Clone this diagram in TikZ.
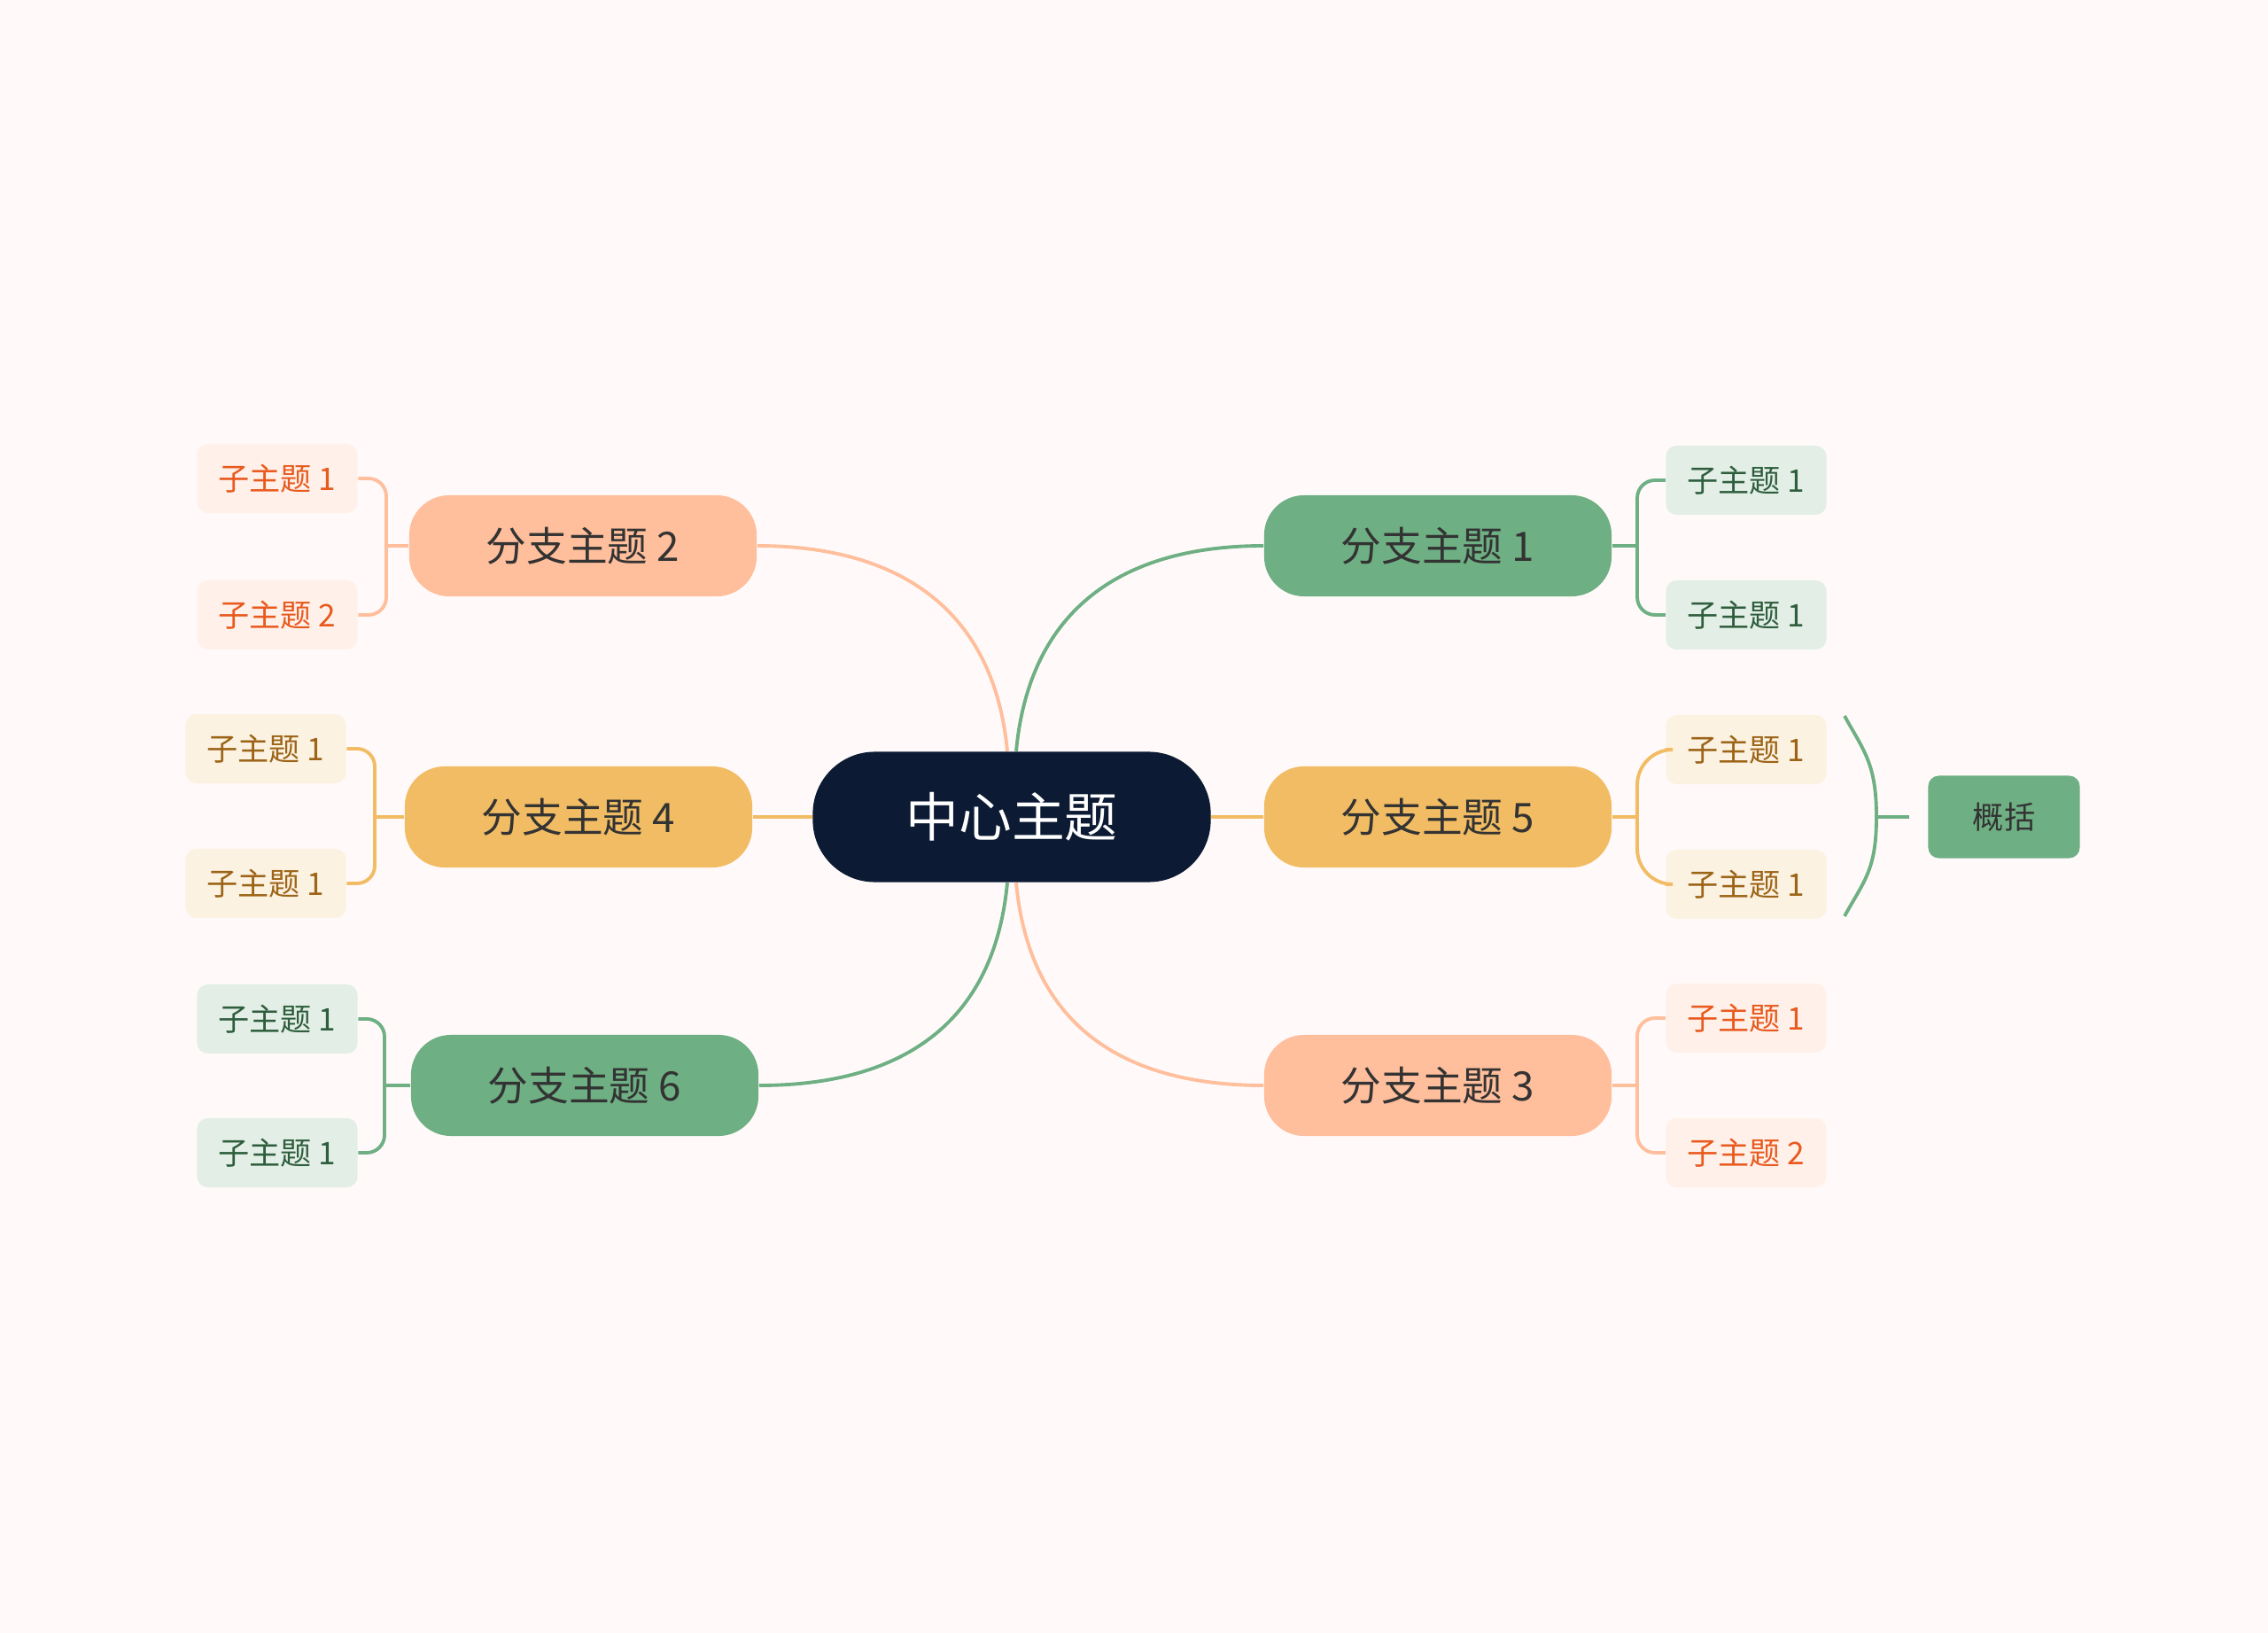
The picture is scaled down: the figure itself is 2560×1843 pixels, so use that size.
\documentclass[tikz,border=0pt]{standalone}
\usepackage{fontspec}
\setmainfont{Noto Sans CJK SC}
\usepackage{tikz}

\definecolor{pagebg}{HTML}{FFFAF9}
\definecolor{navy}{HTML}{0C1B33}
\definecolor{peach}{HTML}{FFBE9C}
\definecolor{amber}{HTML}{F1BC63}
\definecolor{sage}{HTML}{6EAF83}
\definecolor{peachsoft}{HTML}{FFF1EA}
\definecolor{ambersoft}{HTML}{FCF2E2}
\definecolor{sagesoft}{HTML}{E3EFE6}
\definecolor{peachink}{HTML}{E85A1E}
\definecolor{amberink}{HTML}{9C6416}
\definecolor{sageink}{HTML}{2F5E3E}
\definecolor{darkink}{HTML}{333333}

\begin{document}
\begin{tikzpicture}[x=0.01cm, y=-0.01cm,
  every topic/.style={rounded corners=0.7cm, minimum width=4.49cm, minimum height=1.47cm, inner sep=0pt, fill=navy, text=white, font=\fontsize{17}{20}\selectfont},
  every branch/.style={rounded corners=0.45cm, minimum width=3.92cm, minimum height=1.14cm, inner sep=0pt, text=darkink, font=\fontsize{13}{15}\selectfont},
  every sub/.style={rounded corners=0.12cm, minimum width=1.81cm, minimum height=0.78cm, inner sep=0pt, font=\fontsize{10}{12}\selectfont},
  sub peach/.style={fill=peachsoft, text=peachink},
  sub amber/.style={fill=ambersoft, text=amberink},
  sub sage/.style={fill=sagesoft, text=sageink},
  link/.style={line width=1.1pt}]

\fill [pagebg] (0,0) rectangle (2560,1843);
\useasboundingbox (0,0) rectangle (2560,1843);

\node [every topic/.try] (center) at (1142,922) {中心主题};

\foreach \n/\x/\y/\c in {1/1623/616/sage, 2/658/616/peach, 3/1623/1225/peach, 4/653/922/amber, 5/1623/922/amber, 6/660/1225/sage}
  \node [every branch/.try, fill=\c] (branch-\n) at (\x,\y) {分支主题 \n};

\foreach \m/\x/\y/\c/\l in {1-1/1971/542/sage/1, 1-2/1971/694/sage/1, 2-1/313/540/peach/1, 2-2/313/694/peach/2, 3-1/1971/1149/peach/1, 3-2/1971/1301/peach/2, 4-1/300/845/amber/1, 4-2/300/997/amber/1, 5-1/1971/846/amber/1, 5-2/1971/998/amber/1, 6-1/313/1150/sage/1, 6-2/313/1301/sage/1}
  \node [every sub/.try, sub \c/.try] (sub-\m) at (\x,\y) {子主题 \l};

\node [every sub/.try, fill=sage, text=darkink, minimum width=1.71cm, minimum height=0.93cm] (summary) at (2262,922) {概括};

\foreach \n/\x/\y in {1/1848/616, 2/436/616, 3/1848/1225, 4/423/922, 5/1848/922, 6/434/1225}
  \coordinate (fork-\n) at (\x,\y);

\foreach \n/\c/\a/\r in {1/sage/west/0.2cm, 2/peach/east/0.2cm, 3/peach/west/0.2cm, 4/amber/east/0.2cm, 5/amber/west/0.4cm, 6/sage/east/0.2cm} {
  \draw [link, draw=\c] (branch-\n) -- (fork-\n);
  \draw [link, draw=\c, rounded corners=\r] (sub-\n-1.\a) -| (fork-\n) |- (sub-\n-2.\a);
}

\draw [link, draw=peach] ([xshift=-0.05cm]center.north) .. controls +(-15,-160) and +(160,0) .. (branch-2.east);
\draw [link, draw=sage] ([xshift=0.05cm]center.north) .. controls +(15,-160) and +(-160,0) .. (branch-1.west);
\draw [link, draw=sage] ([xshift=-0.05cm]center.south) .. controls +(-15,160) and +(160,0) .. (branch-6.east);
\draw [link, draw=peach] ([xshift=0.05cm]center.south) .. controls +(15,160) and +(-160,0) .. (branch-3.west);
\draw [link, draw=amber] (center) -- (branch-4);
\draw [link, draw=amber] (center) -- (branch-5);

\coordinate (brace-top) at (2082,808);
\coordinate (brace-tip) at (2118,922);
\coordinate (brace-end) at (2082,1034);
\draw [link, draw=sage] (brace-top) .. controls +(22,40) and +(0,-60) .. (brace-tip)
  .. controls +(0,60) and +(22,-40) .. (brace-end);
\draw [link, draw=sage] (brace-tip) -- ([xshift=-0.21cm]summary.west);

\end{tikzpicture}
\end{document}
